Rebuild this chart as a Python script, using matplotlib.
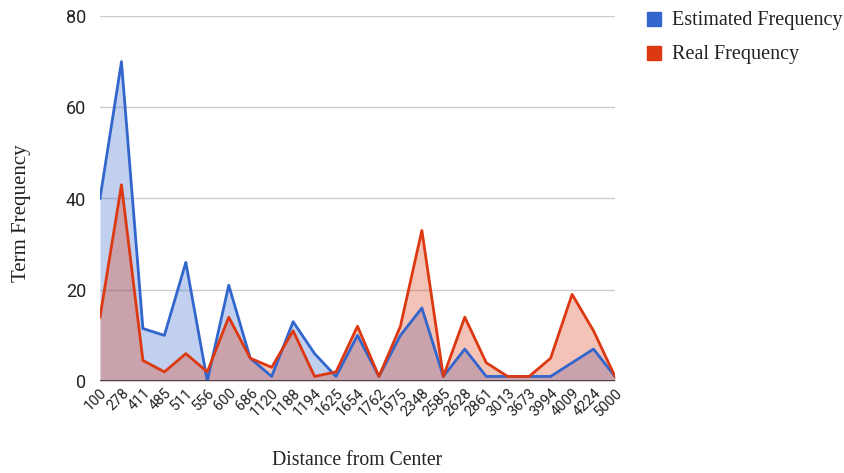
import numpy as np
import matplotlib.pyplot as plt
from matplotlib.patches import Rectangle

distances = ['100', '278', '411', '485', '511', '556', '600', '686', '1120', '1188',
             '1194', '1625', '1654', '1762', '1975', '2348', '2585', '2628', '2861',
             '3013', '3673', '3994', '4009', '4224', '5000']
estimated = [40, 70, 11.5, 10, 26, 0, 21, 5, 1, 13,
             6, 1, 10, 1, 10, 16, 1, 7, 1,
             1, 1, 1, 4, 7, 1]
real = [14, 43, 4.5, 2, 6, 2, 14, 5, 3, 11,
        1, 2, 12, 1, 12, 33, 1, 14, 4,
        1, 1, 5, 19, 11, 1]
series_names = ['Estimated Frequency', 'Real Frequency']

blue = '#3366cc'
red = '#dc3912'
serif = ['Liberation Serif', 'DejaVu Serif']
sans = ['Roboto', 'DejaVu Sans']
W, H = 844, 473

fig = plt.figure(figsize=(W / 100, H / 100), dpi=100)
ax = fig.add_axes([100 / W, 1 - 381 / H, 515 / W, 365 / H])

x = np.arange(len(distances))
ax.fill_between(x, estimated, color=blue, alpha=0.3, lw=0)
ax.fill_between(x, real, color=red, alpha=0.3, lw=0)
ax.plot(x, estimated, color=blue, lw=2, zorder=3)
ax.plot(x, real, color=red, lw=2, zorder=4)

ax.set_xlim(0, len(distances) - 1)
ax.set_ylim(0, 80)
ax.set_yticks([0, 20, 40, 60, 80])
ax.grid(axis='y', color='#cccccc', lw=1)
ax.set_axisbelow(True)
ax.axhline(0, color='#333333', lw=1.2, zorder=5)
for s in ax.spines.values():
    s.set_visible(False)
ax.tick_params(length=0)
ax.tick_params(axis='y', pad=10)

ax.set_xticks(x)
ax.set_xticklabels(distances, rotation=45, ha='right', rotation_mode='anchor',
                   fontsize=10.5, family=sans, color='#222222')
for lbl in ax.get_yticklabels():
    lbl.set_fontsize(13)
    lbl.set_family(sans)
    lbl.set_color('#222222')

fig.text(22 / W, 1 - 213 / H, 'Term Frequency', rotation=90, ha='center', va='center',
         family=serif, fontsize=15, color='#222222')
fig.text(357 / W, 1 - 460 / H, 'Distance from Center', ha='center', va='center',
         family=serif, fontsize=14.2, color='#222222')

# legend drawn by hand: colour square plus label
for i, (name, col) in enumerate(zip(series_names, [blue, red])):
    yc = 19 + i * 34
    fig.patches.append(Rectangle((647 / W, 1 - (yc + 7) / H), 14 / W, 14 / H,
                                 transform=fig.transFigure, color=col))
    fig.text(672 / W, 1 - (yc + 1) / H, name, ha='left', va='center',
             family=serif, fontsize=14.5, color='#222222')

fig.savefig('out.png', dpi=100)
